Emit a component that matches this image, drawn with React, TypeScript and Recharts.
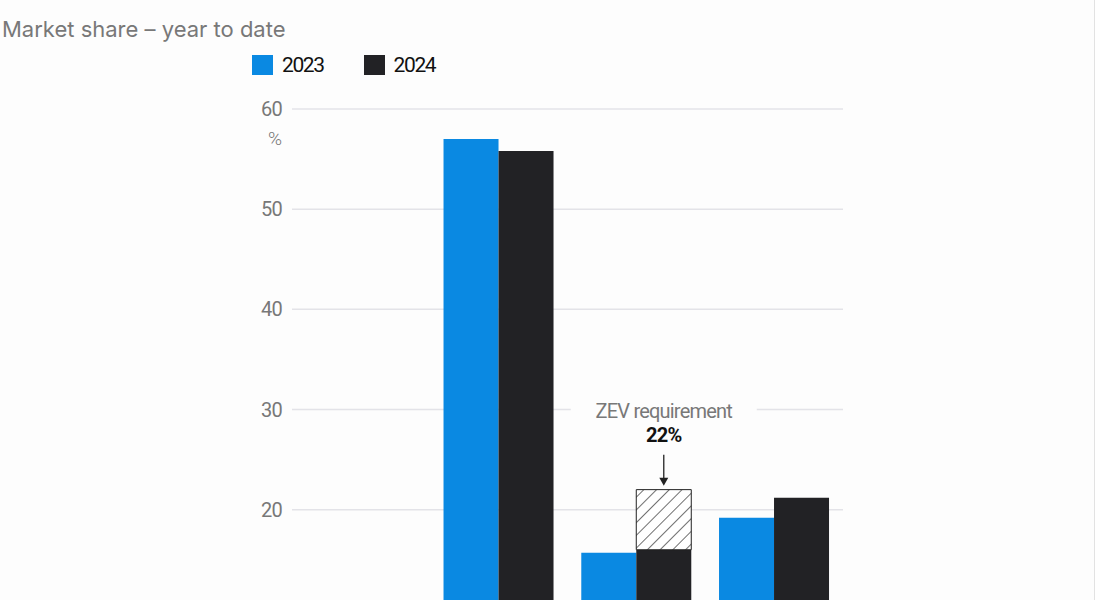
import { BarChart, Bar, XAxis, YAxis, CartesianGrid, LabelList } from 'recharts'

const categories = ['Diesel', 'Petrol', 'Battery electric', 'Hybrid']
const share2023 = [7.4, 57.0, 15.7, 19.2]
const share2024 = [6.5, 55.8, 16.0, 21.2]
const zevRequirement = [null, null, 22, null]
// only the ticks that fall inside the visible crop
const yTicks = [20, 30, 40, 50, 60]

const BLUE = '#0a89e2'
const BLACK = '#222225'
const GREY = '#787878'
const NARROW = 'Roboto, "DejaVu Sans", sans-serif'

const data = categories.map((name, i) => ({
  name,
  y2023: share2023[i],
  y2024: share2024[i],
  // hatched part from the 2024 value up to the requirement
  gap: zevRequirement[i] != null ? (zevRequirement[i] as number) - share2024[i] : null,
  target: zevRequirement[i],
}))

function YTick({ x, y, payload }: any) {
  return (
    <g>
      <text x={x} y={y} textAnchor="end" dominantBaseline="central" fill={GREY} fontSize={20} letterSpacing={-0.8} fontFamily={NARROW}>
        {payload.value}
      </text>
      {payload.value === 60 && (
        <text x={x} y={y + 29} textAnchor="end" dominantBaseline="central" fill={GREY} fontSize={19} fontWeight={300} fontFamily={NARROW}>
          %
        </text>
      )}
    </g>
  )
}

function ZevLabel({ x, y, width, value }: any) {
  if (value == null || value === '') return null
  const cx = x + width / 2
  return (
    <g>
      <rect x={cx - 93} y={y - 92} width={186} height={26} fill="#fdfdfd" />
      <text x={cx} y={y - 79} textAnchor="middle" dominantBaseline="central" fill={GREY} fontSize={20} letterSpacing={-0.8} fontFamily={NARROW}>
        ZEV requirement
      </text>
      <text x={cx} y={y - 55} textAnchor="middle" dominantBaseline="central" fill="#111" fontSize={20} fontWeight={700} letterSpacing={-0.8} fontFamily={NARROW}>
        {value}%
      </text>
      <line x1={cx} y1={y - 35} x2={cx} y2={y - 10} stroke="#222" strokeWidth={1.3} />
      <path d={`M ${cx - 4.5} ${y - 12} L ${cx + 4.5} ${y - 12} L ${cx} ${y - 4} Z`} fill="#222" />
    </g>
  )
}

const legendItems = [
  { label: '2023', color: BLUE },
  { label: '2024', color: BLACK },
]

export default function App() {
  return (
    <div
      style={{
        position: 'absolute', left: 0, top: 0, width: 1095, height: 780,
        background: '#fdfdfd', borderRight: '1px solid #e2e2e2', boxSizing: 'border-box',
      }}
    >
      <div
        style={{
          position: 'absolute', left: 2, top: 16, fontFamily: 'Inter, "Open Sans", sans-serif',
          fontSize: 22, color: GREY, letterSpacing: 0, whiteSpace: 'nowrap',
        }}
      >
        Market share – year to date
      </div>
      <div style={{ position: 'absolute', left: 252, top: 53, display: 'flex', gap: 40 }}>
        {legendItems.map((it) => (
          <div key={it.label} style={{ display: 'flex', alignItems: 'center', gap: 9 }}>
            <span style={{ width: 21, height: 20, background: it.color, display: 'inline-block' }} />
            <span style={{ fontFamily: NARROW, fontSize: 21, letterSpacing: -1.4, color: '#111' }}>{it.label}</span>
          </div>
        ))}
      </div>
      <BarChart
        width={1094}
        height={780}
        data={data}
        margin={{ top: 109, right: 251, bottom: 40, left: 0 }}
        barCategoryGap="10%"
        barGap={0}
      >
        <defs>
          <pattern id="hatch" width="9" height="9" patternUnits="userSpaceOnUse" patternTransform="rotate(45)">
            <rect width="9" height="9" fill="#fff" />
            <line x1="0" y1="0" x2="0" y2="9" stroke="#222" strokeWidth="1.3" />
          </pattern>
        </defs>
        <CartesianGrid vertical={false} stroke="#e3e3e8" strokeWidth={1.5} />
        <XAxis dataKey="name" axisLine={false} tickLine={false} height={30} tick={false} />
        <YAxis
          width={292}
          domain={[0, 60]}
          ticks={yTicks}
          axisLine={false}
          tickLine={false}
          tickSize={0}
          tickMargin={10}
          tick={<YTick />}
        />
        <Bar dataKey="y2023" name="2023" stackId="a" fill={BLUE} isAnimationActive={false} />
        <Bar dataKey="y2024" name="2024" stackId="b" fill={BLACK} isAnimationActive={false} />
        <Bar dataKey="gap" stackId="b" fill="url(#hatch)" stroke="#222" strokeWidth={1} isAnimationActive={false}>
          <LabelList dataKey="target" content={<ZevLabel />} />
        </Bar>
      </BarChart>
    </div>
  )
}
